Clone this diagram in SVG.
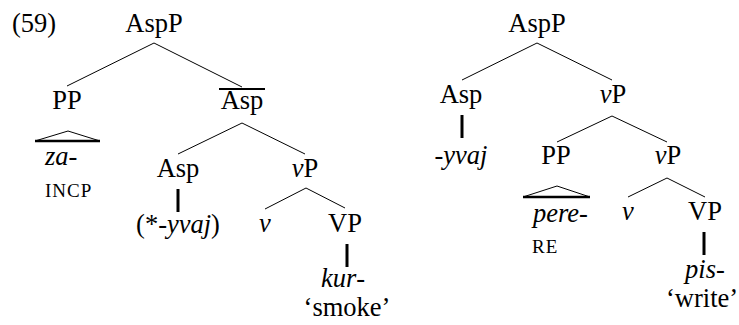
<svg xmlns="http://www.w3.org/2000/svg" width="739" height="325" viewBox="0 0 739 325">
<style>
text{font-family:'Liberation Serif',Tinos,'Times New Roman',Times,'Nimbus Roman','FreeSerif','Noto Serif','DejaVu Serif',serif;font-size:26.5px;fill:#000}
.m{text-anchor:middle}
.i{font-style:italic}
.sc{font-size:19px;letter-spacing:1px}
.e line,.e polyline{stroke:#000;stroke-width:1;fill:none}
.e .t{stroke-width:3}
.e .b{stroke-width:2.5}
</style>
<rect width="739" height="325" fill="#fff"/>
<text x="12" y="32">(59)</text>
<g id="L_AspP"><text class="m" x="154" y="32">AspP</text></g>
<g id="L_PP"><text class="m" x="67" y="109">PP</text></g>
<g id="L_Aspbar"><text class="m" x="242" y="109">Asp</text><line x1="219" y1="89" x2="265" y2="89" stroke="#000" stroke-width="2"/></g>
<g id="L_za"><text x="45" y="165"><tspan class="i">za</tspan>-</text><text class="sc" x="45" y="197">INCP</text></g>
<g id="L_Asp"><text class="m" x="178" y="177">Asp</text></g>
<g id="L_vP"><text class="m" x="305" y="177"><tspan class="i">v</tspan>P</text></g>
<g id="L_yvaj"><text class="m" x="178" y="233">(*-<tspan class="i">yvaj</tspan>)</text></g>
<g id="L_v"><text class="m i" x="265" y="232">v</text></g>
<g id="L_VP"><text class="m" x="345" y="232">VP</text></g>
<g id="L_kur"><text class="m" x="343" y="287"><tspan class="i">kur</tspan>-</text><text class="m" x="347" y="316">‘smoke’</text></g>

<g id="R_AspP"><text class="m" x="537" y="32">AspP</text></g>
<g id="R_Asp"><text class="m" x="461" y="103">Asp</text></g>
<g id="R_vP1"><text class="m" x="613" y="103"><tspan class="i">v</tspan>P</text></g>
<g id="R_yvaj"><text class="m i" x="461" y="164">-yvaj</text></g>
<g id="R_PP"><text class="m" x="556" y="164">PP</text></g>
<g id="R_vP2"><text class="m" x="668" y="164"><tspan class="i">v</tspan>P</text></g>
<g id="R_pere"><text x="533" y="222"><tspan class="i">pere</tspan>-</text><text class="sc" x="532" y="253">RE</text></g>
<g id="R_v"><text class="m i" x="628" y="220">v</text></g>
<g id="R_VP"><text class="m" x="705" y="220">VP</text></g>
<g id="R_pis"><text class="m" x="705" y="278"><tspan class="i">pis</tspan>-</text><text x="666" y="307">‘write’</text></g>

<g id="edges" class="e">
<line x1="154" y1="43" x2="67" y2="86"/>
<line x1="154" y1="43" x2="242" y2="87"/>
<polyline points="35,141 68,131 100,141"/>
<line class="b" x1="35" y1="141" x2="100" y2="141"/>
<line x1="242" y1="123" x2="178" y2="154"/>
<line x1="242" y1="123" x2="305" y2="154"/>
<line class="t" x1="178" y1="189" x2="178" y2="212"/>
<line x1="306" y1="188" x2="265" y2="209"/>
<line x1="306" y1="188" x2="345" y2="208"/>
<line class="t" x1="347" y1="244" x2="347" y2="267"/>

<line x1="537" y1="43" x2="462" y2="80"/>
<line x1="537" y1="43" x2="612" y2="80"/>
<line class="t" x1="462" y1="115" x2="462" y2="138"/>
<line x1="612" y1="116" x2="557" y2="142"/>
<line x1="612" y1="116" x2="667" y2="142"/>
<polyline points="523,197 557,186 590,197"/>
<line class="b" x1="523" y1="197" x2="590" y2="197"/>
<line x1="667" y1="178" x2="628" y2="197"/>
<line x1="667" y1="178" x2="705" y2="197"/>
<line class="t" x1="704" y1="232" x2="704" y2="255"/>
</g>
</svg>
